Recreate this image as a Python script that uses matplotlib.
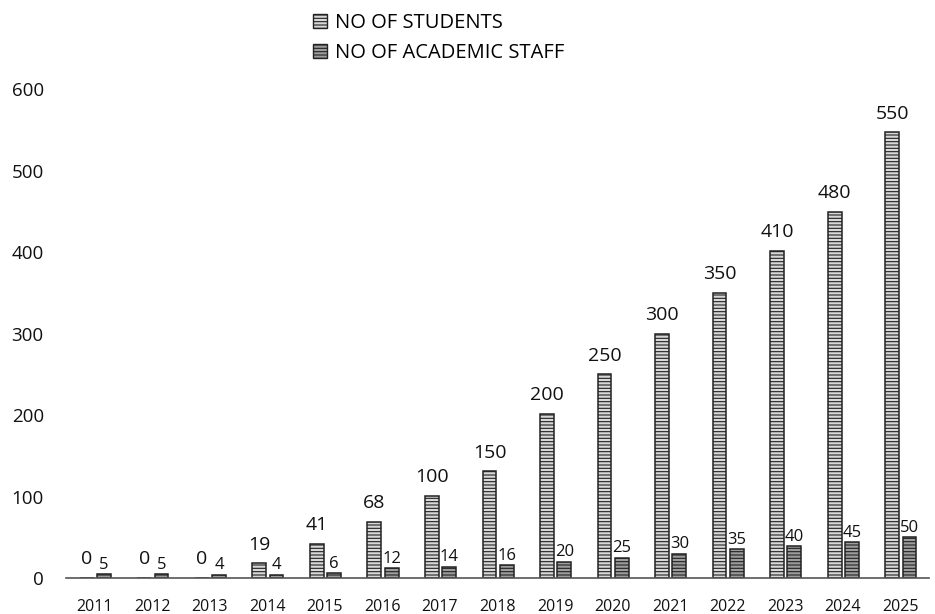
import matplotlib.pyplot as plt
import matplotlib.patches as mpatches
import numpy as np

years = ["2011", "2012", "2013", "2014", "2015", "2016", "2017", "2018",
         "2019", "2020", "2021", "2022", "2023", "2024", "2025"]
# bar heights as drawn in the picture (they do not always match the printed labels)
students = [0, 0, 0, 18, 42, 69, 101, 131, 201, 250, 300, 350, 401, 449, 547]
student_labels = ["0", "0", "0", "19", "41", "68", "100", "150", "200",
                  "250", "300", "350", "410", "480", "550"]
staff = [5, 5, 4, 4, 6, 12, 14, 16, 20, 25, 30, 35, 39, 44, 50]
staff_labels = ["5", "5", "4", "4", "6", "12", "14", "16", "20", "25",
                "30", "35", "40", "45", "50"]
yticks = [0, 100, 200, 300, 400, 500, 600]

plt.rcParams['font.family'] = ['Open Sans', 'DejaVu Sans']
plt.rcParams['hatch.linewidth'] = 0.8

fig = plt.figure(figsize=(9.35, 6.14), dpi=100)
ax = fig.add_axes([0.0706, 0.0586, 0.923, 0.7964])

x = np.arange(len(years))
w = 0.24
b1 = ax.bar(x - 0.14, students, w, facecolor='#d8d8d8', edgecolor='#222222',
            hatch='-----', linewidth=1.1)
b2 = ax.bar(x + 0.16, staff, w, facecolor='#9c9c9c', edgecolor='#222222',
            hatch='-----', linewidth=1.1)

for xi, h, lab in zip(x, students, student_labels):
    ax.annotate(lab, (xi - 0.14, h), xytext=(0, 7), textcoords='offset points',
                ha='center', va='bottom', fontsize=14, color='#111111')
for xi, h, lab in zip(x, staff, staff_labels):
    ax.annotate(lab, (xi + 0.16, h), xytext=(0, 1), textcoords='offset points',
                ha='center', va='bottom', fontsize=12, color='#111111')

ax.set_xlim(-0.5, len(years) - 0.5)
ax.set_ylim(0, 600)
ax.set_xticks(x)
ax.set_xticklabels(years, fontsize=11.5)
ax.set_yticks(yticks)
ax.set_yticklabels([str(t) for t in yticks], fontsize=13.5)
ax.tick_params(axis='both', length=0, colors='#111111')
ax.tick_params(axis='x', pad=15)
ax.tick_params(axis='y', pad=16)
for s in ['top', 'right', 'left']:
    ax.spines[s].set_visible(False)
ax.spines['bottom'].set_color('#555555')
ax.spines['bottom'].set_linewidth(1.2)

h1 = mpatches.Patch(facecolor='#d8d8d8', edgecolor='#222222', hatch='-----')
h2 = mpatches.Patch(facecolor='#9c9c9c', edgecolor='#222222', hatch='-----')
fig.legend([h1, h2], ["NO OF STUDENTS", "NO OF ACADEMIC STAFF"],
           loc='upper left', bbox_to_anchor=(305 / 935, 1 - 5 / 614),
           frameon=False, fontsize=14.5, handlelength=0.7, handleheight=0.7,
           handletextpad=0.4, labelspacing=0.5, borderaxespad=0)

fig.savefig("out.png", dpi=100)
